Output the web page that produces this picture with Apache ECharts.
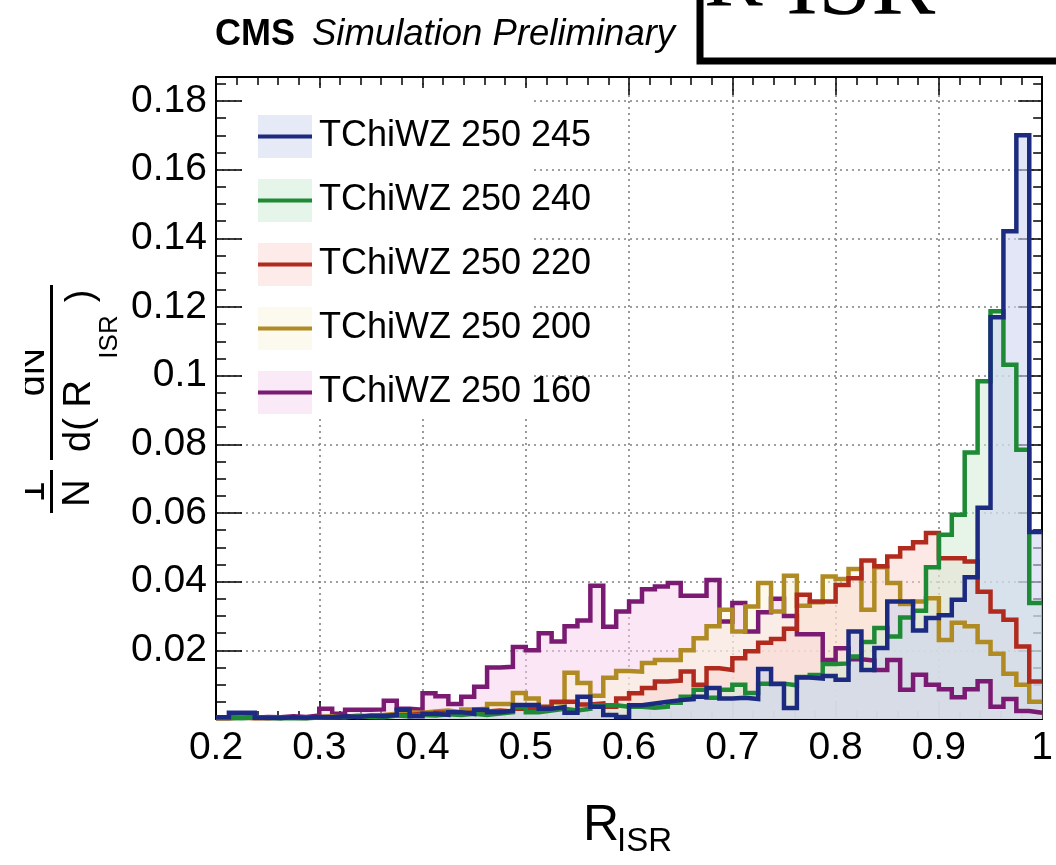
<!DOCTYPE html>
<html>
<head>
<meta charset="utf-8">
<script src="https://cdn.jsdelivr.net/npm/echarts@6/dist/echarts.min.js"></script>
<style>
html,body{margin:0;padding:0;background:#fff;}
#chart{width:1056px;height:865px;}
</style>
</head>
<body>
<div id="chart"></div>
<script>
// ---- Histogram binning (64 bins from 0.2 to 1.0) ----
const binMin = 0.2;
const binWidth = 0.0125;
const nBins = 64;
const binLow = [];
for (let k = 0; k < nBins; k++) binLow.push(+(binMin + k * binWidth).toFixed(4));

// ---- Series names ----
const seriesNames = ['TChiWZ 250 245', 'TChiWZ 250 240', 'TChiWZ 250 220', 'TChiWZ 250 200', 'TChiWZ 250 160'];

// ---- Series values (normalised bin contents) ----
const tchiwz245 = [
  0.0005,0.0018,0.0018,0.0004,0.0003,0.0005,0.0004,0.0006,0.0005,0.0008,0.0006,0.0010,0.0008,0.0012,0.0027,0.0008,
  0.0015,0.0012,0.0020,0.0015,0.0027,0.0020,0.0024,0.0041,0.0041,0.0030,0.0035,0.0018,0.0065,0.0036,0.0012,0.0006,
  0.0040,0.0045,0.0050,0.0055,0.0058,0.0065,0.0090,0.0060,0.0062,0.0058,0.0146,0.0102,0.0032,0.0121,0.0118,0.0125,
  0.0114,0.0255,0.0143,0.0207,0.0342,0.0342,0.0258,0.0294,0.0302,0.0347,0.0413,0.0615,0.1170,0.1421,0.1700,0.0545
];
const tchiwz240 = [
  0.0003,0.0002,0.0004,0.0003,0.0002,0.0003,0.0002,0.0004,0.0006,0.0005,0.0008,0.0006,0.0005,0.0010,0.0008,0.0012,
  0.0010,0.0014,0.0012,0.0015,0.0012,0.0016,0.0020,0.0035,0.0020,0.0025,0.0030,0.0025,0.0030,0.0040,0.0040,0.0036,
  0.0036,0.0033,0.0036,0.0047,0.0065,0.0085,0.0062,0.0085,0.0100,0.0076,0.0103,0.0103,0.0098,0.0122,0.0128,0.0160,
  0.0162,0.0182,0.0224,0.0265,0.0240,0.0296,0.0315,0.0442,0.0537,0.0595,0.0776,0.0984,0.1188,0.1032,0.0784,0.0338
];
const tchiwz220 = [
  0.0002,0.0004,0.0003,0.0002,0.0005,0.0004,0.0003,0.0006,0.0005,0.0008,0.0006,0.0008,0.0010,0.0010,0.0012,0.0015,
  0.0012,0.0018,0.0015,0.0020,0.0022,0.0025,0.0022,0.0030,0.0028,0.0035,0.0050,0.0050,0.0042,0.0045,0.0036,0.0060,
  0.0075,0.0090,0.0109,0.0112,0.0138,0.0100,0.0148,0.0143,0.0177,0.0197,0.0222,0.0233,0.0263,0.0362,0.0342,0.0342,
  0.0390,0.0410,0.0462,0.0445,0.0473,0.0497,0.0515,0.0542,0.0468,0.0468,0.0459,0.0371,0.0313,0.0289,0.0211,0.0109
];
const tchiwz200 = [
  0.0003,0.0005,0.0002,0.0004,0.0003,0.0005,0.0004,0.0006,0.0008,0.0006,0.0010,0.0008,0.0012,0.0015,0.0020,0.0018,
  0.0022,0.0025,0.0020,0.0028,0.0030,0.0044,0.0044,0.0076,0.0060,0.0036,0.0048,0.0135,0.0105,0.0068,0.0120,0.0140,
  0.0138,0.0163,0.0172,0.0172,0.0200,0.0235,0.0270,0.0318,0.0255,0.0328,0.0396,0.0313,0.0417,0.0330,0.0340,0.0415,
  0.0408,0.0437,0.0318,0.0442,0.0396,0.0335,0.0342,0.0352,0.0230,0.0280,0.0270,0.0224,0.0190,0.0132,0.0100,0.0050
];
const tchiwz160 = [
  0.0005,0.0008,0.0004,0.0006,0.0005,0.0008,0.0006,0.0010,0.0030,0.0015,0.0027,0.0027,0.0028,0.0053,0.0030,0.0027,
  0.0075,0.0066,0.0044,0.0065,0.0094,0.0150,0.0152,0.0210,0.0200,0.0250,0.0226,0.0270,0.0287,0.0388,0.0269,0.0313,
  0.0342,0.0378,0.0386,0.0396,0.0359,0.0359,0.0405,0.0284,0.0338,0.0255,0.0311,0.0350,0.0300,0.0247,0.0247,0.0172,
  0.0206,0.0174,0.0170,0.0143,0.0172,0.0085,0.0129,0.0100,0.0087,0.0063,0.0087,0.0110,0.0036,0.0058,0.0023,0.0018
];
const seriesValues = [tchiwz245, tchiwz240, tchiwz220, tchiwz200, tchiwz160];

// ---- Axis ticks ----
const xTicks = { min: 0.2, max: 1.0, interval: 0.1 };
const yTicks = { min: 0, max: 0.187, interval: 0.02 };

// ---- Styles ----
const lineColors = ['#1c2b7f', '#1e8a36', '#b02a1e', '#b08a22', '#7b1a72'];
const fillColors = ['rgba(207,213,240,0.6)', 'rgba(205,235,209,0.5)', 'rgba(249,211,205,0.5)', 'rgba(249,241,215,0.5)', 'rgba(245,205,235,0.5)'];
const legendFillColors = ['#e6e9f6', '#e6f5e9', '#fcebe9', '#fcf9ee', '#fae9f6'];
const FONT = '"Liberation Sans", Arial, Helvetica, sans-serif';
const SERIF = '"Liberation Serif", "Times New Roman", serif';

function histData(vals) {
  const d = binLow.map((x, k) => [x, vals[k]]);
  d.push([xTicks.max, vals[vals.length - 1]]);
  return d;
}

// draw purple first, blue last (blue on top)
const drawOrder = [4, 3, 2, 1, 0];
const series = drawOrder.map(i => ({
  name: seriesNames[i],
  type: 'line',
  step: 'end',
  symbol: 'none',
  clip: true,
  data: histData(seriesValues[i]),
  lineStyle: { color: lineColors[i], width: 4.5, join: 'miter' },
  itemStyle: { color: lineColors[i] },
  areaStyle: { color: fillColors[i], origin: 'start', opacity: 1 },
  z: 2
}));

const chart = echarts.init(document.getElementById('chart'), null, { renderer: 'canvas' });

const axisLineStyle = { color: '#000', width: 2 };
const tickStyle = { color: '#000', width: 1.5 };
const gridLineStyle = { color: '#808080', width: 1.6, type: [2, 4] };

const option = {
  animation: false,
  backgroundColor: '#fff',
  grid: { left: 216, right: 12, top: 77, bottom: 146, containLabel: false },
  xAxis: [
    {
      type: 'value', position: 'bottom', min: xTicks.min, max: xTicks.max, interval: xTicks.interval,
      axisLine: { show: true, onZero: false, lineStyle: axisLineStyle },
      axisTick: { show: true, inside: true, length: 18, lineStyle: tickStyle },
      minorTick: { show: true, splitNumber: 5, length: 8, lineStyle: tickStyle },
      axisLabel: { show: true, fontSize: 39, margin: 10, color: '#000', fontFamily: FONT },
      splitLine: { show: true, lineStyle: gridLineStyle }
    },
    {
      type: 'value', position: 'top', min: xTicks.min, max: xTicks.max, interval: xTicks.interval,
      axisLine: { show: true, onZero: false, lineStyle: axisLineStyle },
      axisTick: { show: true, inside: true, length: 18, lineStyle: tickStyle },
      minorTick: { show: true, splitNumber: 5, length: 8, lineStyle: tickStyle },
      axisLabel: { show: false },
      splitLine: { show: false }
    }
  ],
  yAxis: [
    {
      type: 'value', position: 'left', min: yTicks.min, max: yTicks.max, interval: yTicks.interval,
      axisLine: { show: true, onZero: false, lineStyle: axisLineStyle },
      axisTick: { show: true, inside: true, length: 26, lineStyle: tickStyle },
      minorTick: { show: true, splitNumber: 4, length: 10, lineStyle: tickStyle },
      axisLabel: {
        show: true, fontSize: 39, margin: 9, color: '#000', fontFamily: FONT,
        showMinLabel: false, showMaxLabel: false,
        formatter: v => (v === 0 ? '' : String(+v.toFixed(3)))
      },
      splitLine: { show: true, lineStyle: gridLineStyle }
    },
    {
      type: 'value', position: 'right', min: yTicks.min, max: yTicks.max, interval: yTicks.interval,
      axisLine: { show: true, onZero: false, lineStyle: axisLineStyle },
      axisTick: { show: true, inside: true, length: 24, lineStyle: tickStyle },
      minorTick: { show: true, splitNumber: 4, length: 9, lineStyle: tickStyle },
      axisLabel: { show: false },
      splitLine: { show: false }
    }
  ],
  legend: [
    {
      orient: 'vertical', left: 253, top: 110, itemWidth: 54, itemHeight: 43, itemGap: 21,
      icon: 'rect',
      data: seriesNames.map((n, i) => ({ name: n, icon: 'rect', itemStyle: { color: legendFillColors[i], borderWidth: 0 } })),
      itemStyle: { borderWidth: 0 },
      textStyle: { fontSize: 36, fontFamily: FONT, color: '#000', lineHeight: 43, padding: [0, 0, 0, 2] },
      selectedMode: false
    },
    {
      orient: 'vertical', left: 253, top: 110, itemWidth: 54, itemHeight: 4, itemGap: 21,
      icon: 'rect',
      data: seriesNames.map((n, i) => ({ name: n, icon: 'rect', itemStyle: { color: lineColors[i], borderWidth: 0 } })),
      itemStyle: { borderWidth: 0 },
      textStyle: { fontSize: 36, fontFamily: FONT, color: 'rgba(0,0,0,0)', lineHeight: 43, padding: [0, 0, 0, 2] },
      selectedMode: false
    }
  ],
  series: series,
  graphic: [
    // white legend box hiding the grid lines behind it
    { type: 'rect', shape: { x: 245, y: 88, width: 288, height: 330 }, style: { fill: '#fff' }, z: 1 },
    // header
    { type: 'text', x: 215, y: 35, style: { text: 'CMS', font: 'bold 36px ' + FONT, fill: '#000', verticalAlign: 'middle', align: 'left' } },
    { type: 'text', x: 312, y: 35, style: { text: 'Simulation Preliminary', font: 'italic 36.5px ' + FONT, fill: '#000', verticalAlign: 'middle', align: 'left' } },
    // boxed label at top right (cut off)
    { type: 'rect', shape: { x: 700, y: -20, width: 400, height: 81 }, style: { fill: '#fff', stroke: '#000', lineWidth: 7 }, z: 10 },
    { type: 'text', x: 704, y: -18, style: { text: 'R', font: '88px ' + SERIF, fill: '#000', verticalAlign: 'middle', align: 'left' }, z: 11 },
    { type: 'text', x: 786, y: -11, style: { text: 'ISR', font: '96px ' + SERIF, fill: '#000', verticalAlign: 'middle', align: 'left' }, z: 11 },
    // x axis title
    { type: 'text', x: 583, y: 826, style: { text: 'R', font: '50px ' + FONT, fill: '#000', verticalAlign: 'middle', align: 'left' } },
    { type: 'text', x: 617, y: 842, style: { text: 'ISR', font: '33px ' + FONT, fill: '#000', verticalAlign: 'middle', align: 'left' } },
    // y axis title: 1/N dN/d(R_ISR), rotated and cut at the left edge
    { type: 'text', x: 34, y: 492, rotation: Math.PI / 2, style: { text: '1', font: '38px ' + FONT, fill: '#000', verticalAlign: 'middle', align: 'center' } },
    { type: 'rect', shape: { x: 50, y: 470, width: 3, height: 43 }, style: { fill: '#000' } },
    { type: 'text', x: 79, y: 493, rotation: Math.PI / 2, style: { text: 'N', font: '38px ' + FONT, fill: '#000', verticalAlign: 'middle', align: 'center' } },
    { type: 'text', x: 34, y: 372, rotation: Math.PI / 2, style: { text: 'dN', font: '38px ' + FONT, fill: '#000', verticalAlign: 'middle', align: 'center' } },
    { type: 'rect', shape: { x: 50, y: 285, width: 3, height: 175 }, style: { fill: '#000' } },
    { type: 'text', x: 80, y: 416, rotation: Math.PI / 2, style: { text: 'd( R', font: '38px ' + FONT, fill: '#000', verticalAlign: 'middle', align: 'center' } },
    { type: 'text', x: 110, y: 337, rotation: Math.PI / 2, style: { text: 'ISR', font: '26px ' + FONT, fill: '#000', verticalAlign: 'middle', align: 'center' } },
    { type: 'text', x: 82, y: 296, rotation: Math.PI / 2, style: { text: ')', font: '38px ' + FONT, fill: '#000', verticalAlign: 'middle', align: 'center' } },
    // left crop edge of the original picture
    { type: 'rect', shape: { x: 0, y: 0, width: 25, height: 865 }, style: { fill: '#fff' }, z: 20 }
  ]
};
chart.setOption(option);
</script>
</body>
</html>
